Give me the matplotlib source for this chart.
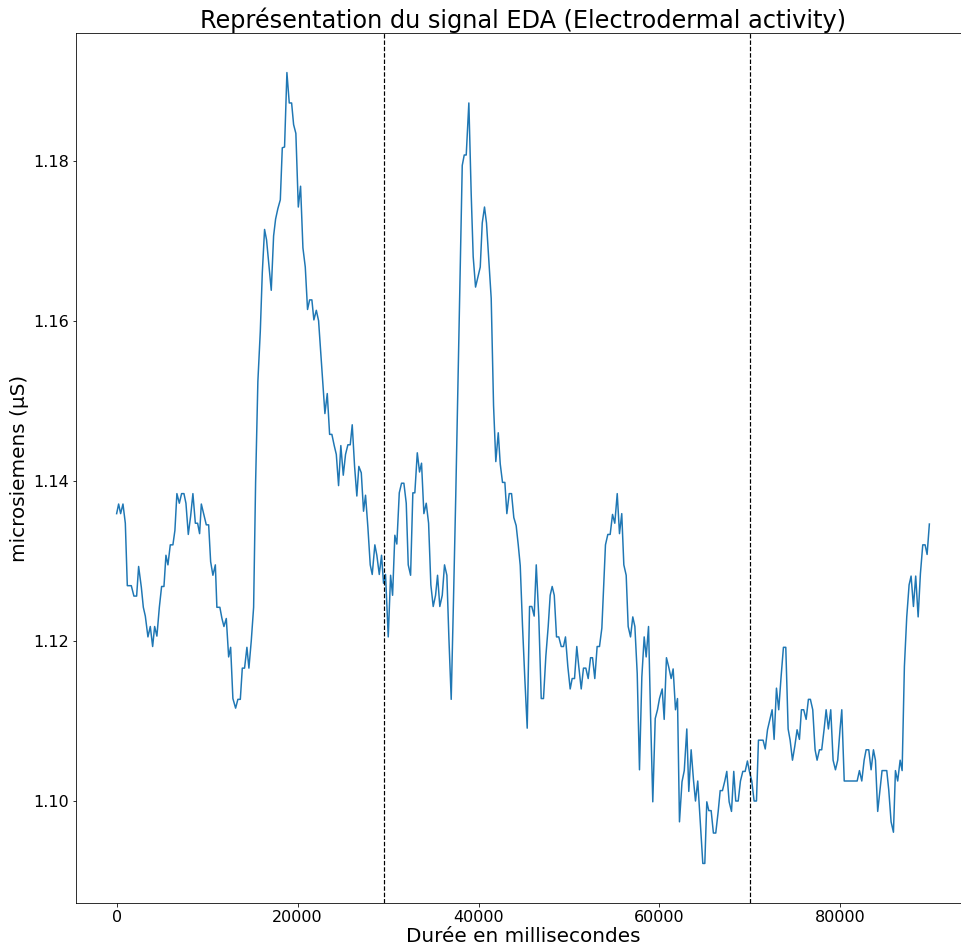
import matplotlib
matplotlib.use("Agg")
import matplotlib.pyplot as plt

# Time (ms) and EDA values (microsiemens)
times_ms = [
    0, 220, 440, 700, 960, 1180, 1620, 1910, 2210, 2430, 2730, 2950, 3170, 3460, 3720, 3980,
    4200, 4450, 4720, 4970, 5230, 5450, 5670, 5930, 6220, 6440, 6660, 6930, 7180, 7440, 7660,
    7920, 8180, 8430, 8700, 8950, 9170, 9360, 9610, 9910, 10170, 10390, 10640, 10910, 11080,
    11410, 11640, 11860, 12120, 12380, 12600, 12850, 13150, 13400, 13670, 13890, 14140, 14400,
    14620, 14880, 15140, 15360, 15610, 15880, 16100, 16350, 16570, 16830, 17090, 17350, 17570,
    17820, 18090, 18310, 18560, 18820, 19080, 19340, 19560, 19810, 20080, 20330, 20590, 20850,
    21100, 21330, 21580, 21800, 22070, 22320, 22580, 22800, 23020, 23280, 23540, 23790, 24050,
    24280, 24530, 24780, 25050, 25300, 25560, 25820, 26040, 26300, 26550, 26770, 27040, 27290,
    27510, 27770, 28030, 28250, 28540, 28760, 29030, 29280, 29500, 29720, 30020, 30280, 30500,
    30750, 30970, 31240, 31490, 31750, 32010, 32230, 32490, 32740, 32960, 33230, 33480, 33700,
    33960, 34220, 34480, 34730, 34990, 35250, 35470, 35720, 35990, 36240, 36500, 36720, 36980,
    37230, 37480, 37720, 37960, 38200, 38420, 38640, 38930, 39190, 39410, 39670, 39920, 40190,
    40410, 40660, 40880, 41140, 41400, 41660, 41910, 42180, 42400, 42650, 42910, 43130, 43390,
    43650, 43900, 44160, 44390, 44610, 44860, 45120, 45380, 45640, 45890, 46150, 46380, 46660,
    46930, 47180, 47440, 47700, 47920, 48140, 48370, 48620, 48870, 49140, 49390, 49610, 49870,
    50130, 50350, 50610, 50860, 51080, 51350, 51600, 51860, 52120, 52380, 52600, 52850, 53110,
    53370, 53630, 53810, 54030, 54290, 54550, 54810, 55060, 55330, 55580, 55830, 56060, 56320,
    56540, 56800, 57050, 57280, 57540, 57790, 58050, 58310, 58530, 58790, 59010, 59260, 59530,
    59780, 60000, 60300, 60520, 60770, 61030, 61290, 61510, 61770, 61990, 62210, 62490, 62740,
    63020, 63240, 63500, 63760, 63980, 64230, 64500, 64790, 65010, 65230, 65450, 65710, 65960,
    66220, 66490, 66710, 66960, 67220, 67440, 67700, 67960, 68210, 68430, 68700, 68950, 69210,
    69470, 69720, 69940, 70200, 70460, 70720, 70940, 71200, 71450, 71690, 71940, 72190, 72450,
    72670, 72930, 73180, 73440, 73700, 73960, 74220, 74440, 74700, 74950, 75210, 75470, 75690,
    75940, 76210, 76460, 76680, 76940, 77200, 77420, 77680, 77930, 78200, 78420, 78670, 78930,
    79190, 79450, 79700, 79960, 80150, 80420, 80670, 80920, 81170, 81420, 81670, 81850, 82100,
    82360, 82620, 82840, 83130, 83390, 83650, 83870, 84120, 84380, 84600, 84860, 85120, 85340,
    85600, 85860, 86080, 86330, 86600, 86820, 87070, 87330, 87590, 87810, 88070, 88320, 88590,
    88840, 89100, 89360, 89580, 89830,
]

eda_us = [
    1.1359, 1.1371, 1.1359, 1.1371, 1.1347, 1.1269, 1.1269, 1.1256, 1.1256, 1.1293, 1.1267,
    1.1242, 1.1231, 1.1205, 1.1218, 1.1193, 1.1218, 1.1206, 1.1242, 1.1268, 1.1268, 1.1307,
    1.1295, 1.1320, 1.1320, 1.1338, 1.1384, 1.1372, 1.1384, 1.1384, 1.1372, 1.1333, 1.1356,
    1.1384, 1.1347, 1.1347, 1.1334, 1.1371, 1.1359, 1.1345, 1.1345, 1.1299, 1.1282, 1.1295,
    1.1242, 1.1242, 1.1228, 1.1218, 1.1228, 1.1180, 1.1192, 1.1128, 1.1116, 1.1127, 1.1127,
    1.1166, 1.1166, 1.1192, 1.1166, 1.1200, 1.1242, 1.1398, 1.1524, 1.1587, 1.1660, 1.1714,
    1.1701, 1.1670, 1.1638, 1.1706, 1.1727, 1.1740, 1.1751, 1.1816, 1.1817, 1.1910, 1.1872,
    1.1872, 1.1845, 1.1834, 1.1742, 1.1768, 1.1691, 1.1667, 1.1614, 1.1626, 1.1626, 1.1601,
    1.1613, 1.1600, 1.1557, 1.1520, 1.1484, 1.1509, 1.1458, 1.1458, 1.1444, 1.1433, 1.1394,
    1.1444, 1.1407, 1.1433, 1.1445, 1.1445, 1.1470, 1.1418, 1.1381, 1.1418, 1.1410, 1.1362,
    1.1382, 1.1342, 1.1295, 1.1283, 1.1320, 1.1307, 1.1283, 1.1307, 1.1272, 1.1283, 1.1205,
    1.1282, 1.1257, 1.1332, 1.1321, 1.1385, 1.1397, 1.1397, 1.1372, 1.1295, 1.1282, 1.1385,
    1.1385, 1.1435, 1.1411, 1.1422, 1.1359, 1.1372, 1.1347, 1.1270, 1.1243, 1.1257, 1.1282,
    1.1243, 1.1257, 1.1295, 1.1282, 1.1205, 1.1127, 1.1250, 1.1380, 1.1520, 1.1660, 1.1794,
    1.1807, 1.1807, 1.1872, 1.1758, 1.1680, 1.1642, 1.1654, 1.1667, 1.1722, 1.1742, 1.1722,
    1.1675, 1.1628, 1.1494, 1.1424, 1.1460, 1.1421, 1.1398, 1.1398, 1.1359, 1.1384, 1.1384,
    1.1354, 1.1344, 1.1320, 1.1294, 1.1219, 1.1152, 1.1091, 1.1243, 1.1243, 1.1231, 1.1295,
    1.1230, 1.1128, 1.1128, 1.1181, 1.1218, 1.1257, 1.1268, 1.1257, 1.1205, 1.1205, 1.1193,
    1.1193, 1.1205, 1.1168, 1.1140, 1.1153, 1.1153, 1.1193, 1.1168, 1.1140, 1.1166, 1.1166,
    1.1153, 1.1179, 1.1179, 1.1153, 1.1193, 1.1193, 1.1216, 1.1263, 1.1320, 1.1333, 1.1333,
    1.1358, 1.1347, 1.1384, 1.1334, 1.1359, 1.1295, 1.1282, 1.1218, 1.1205, 1.1230, 1.1218,
    1.1159, 1.1039, 1.1155, 1.1205, 1.1180, 1.1218, 1.1109, 1.0999, 1.1103, 1.1114, 1.1128,
    1.1140, 1.1102, 1.1179, 1.1167, 1.1153, 1.1165, 1.1114, 1.1128, 1.0974, 1.1024, 1.1038,
    1.1090, 1.1012, 1.1064, 1.1026, 1.1000, 1.1025, 1.0976, 1.0922, 1.0922, 1.0999, 1.0988,
    1.0988, 1.0960, 1.0960, 1.0987, 1.1013, 1.1013, 1.1025, 1.1037, 1.0999, 1.0987, 1.1037,
    1.1000, 1.1000, 1.1025, 1.1037, 1.1037, 1.1050, 1.1037, 1.1025, 1.1000, 1.1000, 1.1076,
    1.1076, 1.1076, 1.1065, 1.1089, 1.1101, 1.1114, 1.1077, 1.1141, 1.1114, 1.1155, 1.1192,
    1.1192, 1.1090, 1.1076, 1.1051, 1.1068, 1.1089, 1.1077, 1.1114, 1.1114, 1.1102, 1.1127,
    1.1127, 1.1114, 1.1064, 1.1051, 1.1064, 1.1064, 1.1090, 1.1114, 1.1090, 1.1114, 1.1051,
    1.1039, 1.1051, 1.1090, 1.1114, 1.1025, 1.1025, 1.1025, 1.1025, 1.1025, 1.1025, 1.1025,
    1.1038, 1.1025, 1.1051, 1.1064, 1.1064, 1.1039, 1.1064, 1.1051, 1.0987, 1.1014, 1.1038,
    1.1038, 1.1038, 1.1014, 1.0974, 1.0961, 1.1038, 1.1025, 1.1051, 1.1038, 1.1168, 1.1230,
    1.1270, 1.1281, 1.1243, 1.1281, 1.1230, 1.1284, 1.1320, 1.1320, 1.1308, 1.1346,
]

# Vertical markers (ms)
marker_times = [29500, 70000]

title = "Représentation du signal EDA (Electrodermal activity)"
xlabel = "Durée en millisecondes"
ylabel = "microsiemens (µS)"

DPI = 72
fig = plt.figure(figsize=(961 / DPI, 950 / DPI), dpi=DPI)
ax = fig.add_axes([76 / 961, 47 / 950, 894 / 961, 870 / 950])

ax.plot(times_ms, eda_us, color="#1f77b4", linewidth=1.5)
for t in marker_times:
    ax.axvline(t, color="black", linestyle="--", linewidth=1.2)

ax.set_title(title, fontsize=24, pad=4)
ax.set_xlabel(xlabel, fontsize=20, labelpad=2)
ax.set_ylabel(ylabel, fontsize=20)
ax.tick_params(labelsize=16)

fig.savefig("out.png", dpi=DPI)
